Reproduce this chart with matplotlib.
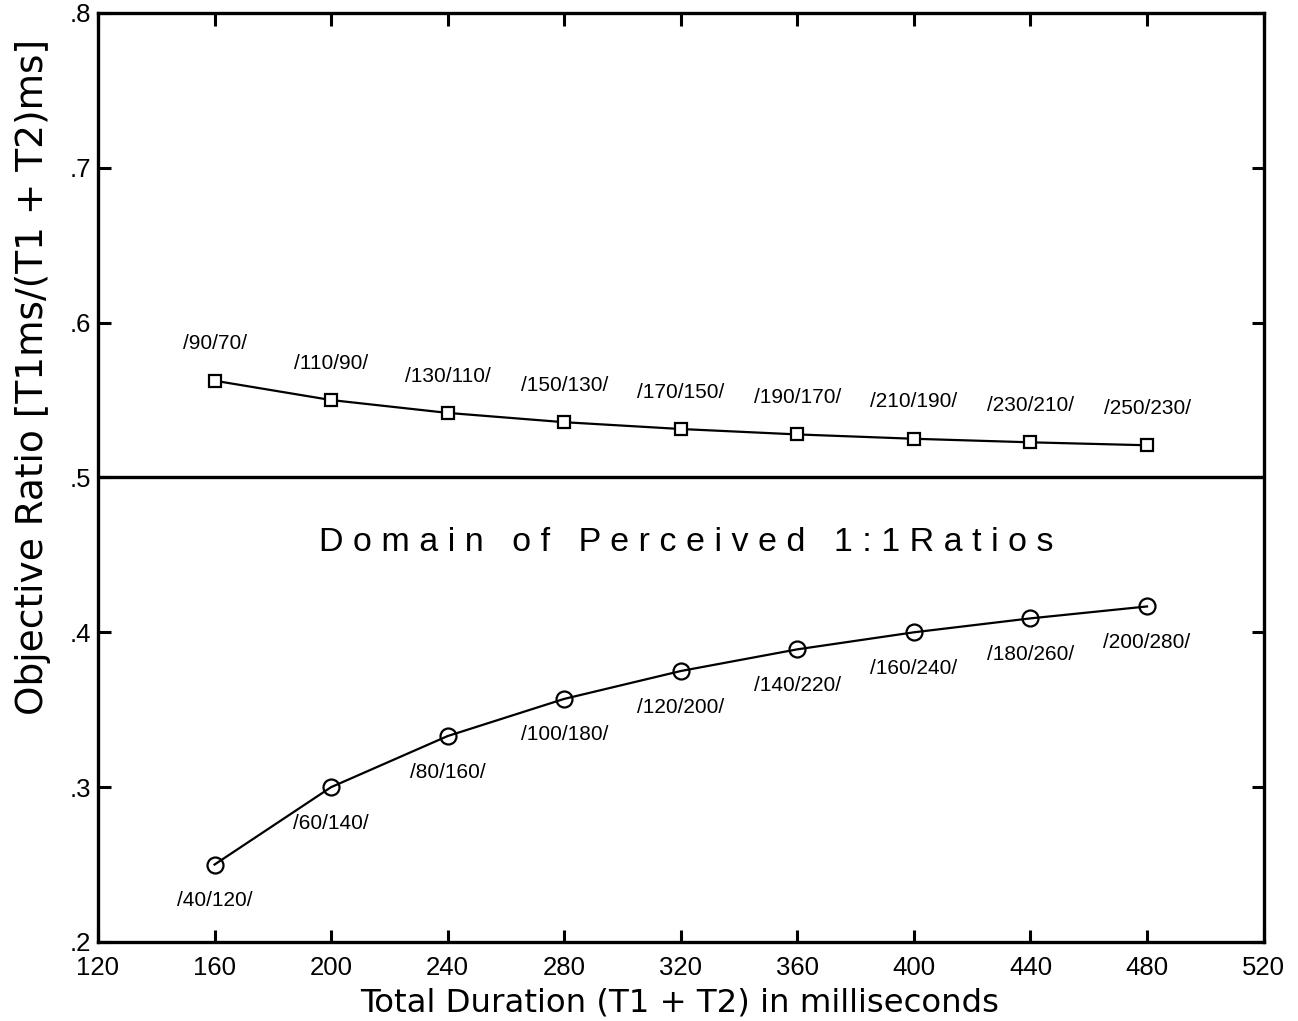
import matplotlib
matplotlib.use("Agg")
import matplotlib.pyplot as plt

plt.rcParams['font.family'] = ['Liberation Sans', 'DejaVu Sans']

durations = [160, 200, 240, 280, 320, 360, 400, 440, 480]
upper_ratio = [0.5625, 0.550, 0.5417, 0.5357, 0.5313, 0.5278, 0.525, 0.5227, 0.5208]
upper_labels = ["/90/70/", "/110/90/", "/130/110/", "/150/130/", "/170/150/",
                "/190/170/", "/210/190/", "/230/210/", "/250/230/"]
lower_ratio = [0.250, 0.300, 0.333, 0.357, 0.375, 0.389, 0.400, 0.409, 0.4167]
lower_labels = ["/40/120/", "/60/140/", "/80/160/", "/100/180/", "/120/200/",
                "/140/220/", "/160/240/", "/180/260/", "/200/280/"]
xticks = [120, 160, 200, 240, 280, 320, 360, 400, 440, 480, 520]
yticks = [0.2, 0.3, 0.4, 0.5, 0.6, 0.7, 0.8]
ytick_labels = [".2", ".3", ".4", ".5", ".6", ".7", ".8"]
domain_words = ["Domain", "of", "Perceived", "1:1Ratios"]

fig = plt.figure(figsize=(12.98, 10.21), dpi=100)
ax = fig.add_axes([0.0755, 0.0774, 0.898, 0.9099])

ax.plot(durations, upper_ratio, color='black', lw=1.6, marker='s', ms=8.5,
        mfc='white', mec='black', mew=1.6)
ax.plot(durations, lower_ratio, color='black', lw=1.6, marker='o', ms=11.5,
        mfc='none', mec='black', mew=1.6)
ax.axhline(0.5, color='black', lw=2.4)

for x, y, t in zip(durations, upper_ratio, upper_labels):
    ax.annotate(t, (x, y), xytext=(0, 26.5), textcoords='offset points',
                ha='center', va='center', fontsize=15)
for x, y, t in zip(durations, lower_ratio, lower_labels):
    ax.annotate(t, (x, y), xytext=(0, -26), textcoords='offset points',
                ha='center', va='center', fontsize=15)

domain_str = "   ".join(" ".join(list(w)) for w in domain_words)
ax.text(322, 0.458, domain_str, ha='center', va='center', fontsize=24.5)

ax.set_xlim(120, 520)
ax.set_ylim(0.2, 0.8)
ax.set_xticks(xticks)
ax.set_xticklabels([str(v) for v in xticks])
ax.set_yticks(yticks)
ax.set_yticklabels(ytick_labels)
ax.tick_params(direction='in', length=9, width=2.2, labelsize=18.5,
               top=True, right=True)
ax.tick_params(axis='x', pad=10)
ax.tick_params(axis='y', pad=5)
for s in ax.spines.values():
    s.set_linewidth(2.4)

ax.set_xlabel("Total Duration (T1 + T2) in milliseconds", fontsize=23.3,
              family='DejaVu Sans')
ax.xaxis.set_label_coords(0.499, -0.049)
ax.set_ylabel("Objective Ratio [T1ms/(T1 + T2)ms]", fontsize=27,
              family='DejaVu Sans')
ax.yaxis.set_label_coords(-0.040, 0.608)

fig.savefig("out.png", dpi=100, facecolor='white')
